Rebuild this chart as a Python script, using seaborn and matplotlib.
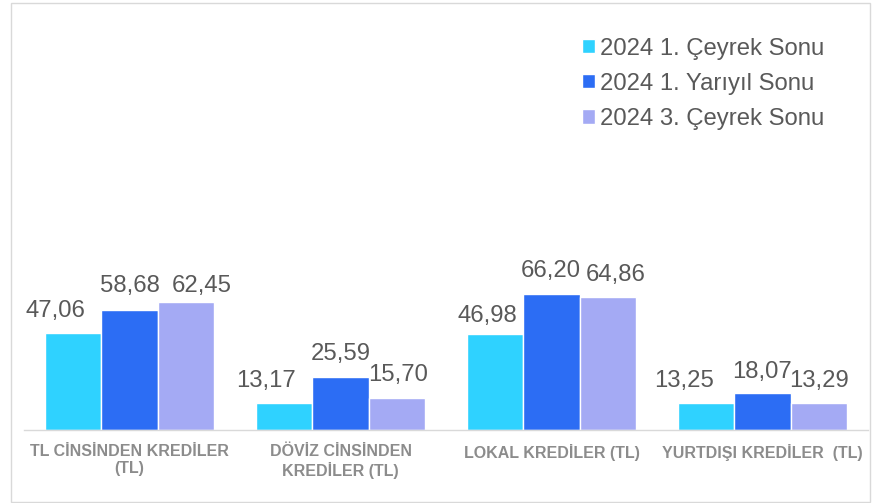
import matplotlib
matplotlib.use("Agg")
import matplotlib.pyplot as plt
import matplotlib.patches as mpatches
import pandas as pd
import seaborn as sns

# chart data
categories = [
    "TL CİNSİNDEN KREDİLER\n(TL)",
    "DÖVİZ CİNSİNDEN\nKREDİLER (TL)",
    "LOKAL KREDİLER (TL)",
    "YURTDIŞI KREDİLER  (TL)",
]
series = ["2024 1. Çeyrek Sonu", "2024 1. Yarıyıl Sonu", "2024 3. Çeyrek Sonu"]
q1_values = [47.06, 13.17, 46.98, 13.25]
h1_values = [58.68, 25.59, 66.20, 18.07]
q3_values = [62.45, 15.70, 64.86, 13.29]

colors = ["#2FD2FF", "#2C6DF4", "#A4AAF4"]

# label nudges in pixels (dx, gap above bar), per series then category
label_dx = [[-18, -18, -8, -22], [0, 0, -1, -1], [16, 1, 8, 0]]
label_gap = [[16, 16, 12, 16], [18, 17, 17, 15], [10, 17, 16, 16]]

rows = []
for name, vals in zip(series, [q1_values, h1_values, q3_values]):
    for cat, v in zip(categories, vals):
        rows.append({"category": cat, "series": name, "value": v})
df = pd.DataFrame(rows)

sns.set_theme(style="white")
plt.rcParams["font.family"] = ["Liberation Sans", "DejaVu Sans"]

W, H = 875, 503
fig = plt.figure(figsize=(W / 100, H / 100), dpi=100)
base_y, top_y = 430, 30
ax = fig.add_axes([24 / W, 1 - base_y / H, 844 / W, (base_y - top_y) / H])

sns.barplot(
    data=df,
    x="category",
    y="value",
    hue="series",
    order=categories,
    hue_order=series,
    palette=colors,
    width=0.8,
    saturation=1,
    errorbar=None,
    ax=ax,
)

px_per_unit = 2.053
ax.set_ylim(0, (base_y - top_y) / px_per_unit)
ax.set_xlim(-0.5, len(categories) - 0.5)

# value labels
pt = 72 / 100
for i, (cont, vals) in enumerate(zip(ax.containers, [q1_values, h1_values, q3_values])):
    for j, (bar, v) in enumerate(zip(cont.patches, vals)):
        ax.annotate(
            f"{v:.2f}".replace(".", ","),
            xy=(bar.get_x() + bar.get_width() / 2, bar.get_height()),
            xytext=(label_dx[i][j] * pt, label_gap[i][j] * pt),
            textcoords="offset points",
            ha="center",
            va="baseline",
            fontsize=17.2,
            color="#595959",
        )

# axes styling
for side in ["top", "right", "left"]:
    ax.spines[side].set_visible(False)
ax.spines["bottom"].set_color("#D9D9D9")
ax.spines["bottom"].set_linewidth(1)
ax.set_yticks([])
ax.set_xlabel("")
ax.set_ylabel("")
ax.set_xticks(range(len(categories)))
ax.set_xticklabels(categories, fontsize=11.5, fontweight="bold", color="#8C8C8C")
ax.tick_params(axis="x", which="major", length=0, pad=10)
ax.set_xticks([k - 0.5 for k in range(len(categories) + 1)], minor=True)
ax.tick_params(axis="x", which="minor", length=5, width=1, color="#D9D9D9", direction="out")

# legend
handles, labels = ax.get_legend_handles_labels()
ax.get_legend().remove()
fig.legend(
    handles,
    labels,
    loc="upper left",
    bbox_to_anchor=(582 / W, 1 - 37.5 / H),
    frameon=False,
    fontsize=17.2,
    labelcolor="#595959",
    handlelength=0.55,
    handleheight=0.55,
    handletextpad=0.2,
    labelspacing=0.55,
    borderpad=0,
    borderaxespad=0,
)

# thin frame around chart area
fig.patches.append(
    mpatches.Rectangle(
        (10.5 / W, 1 / H), (870 - 10.5) / W, (501 - 2) / H,
        transform=fig.transFigure, fill=False, edgecolor="#D9D9D9", linewidth=1,
    )
)

fig.savefig("out.png", dpi=100)
